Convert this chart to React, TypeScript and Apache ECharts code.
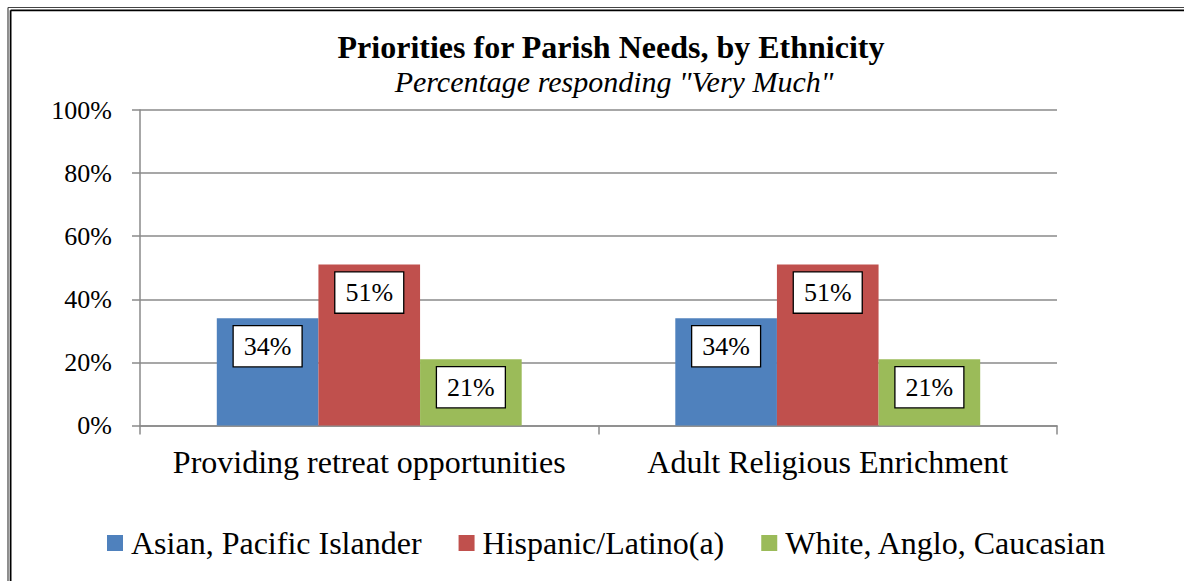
import React, { useEffect, useRef } from "react";
import * as echarts from "echarts";

const categories = ["Providing retreat opportunities", "Adult Religious Enrichment"];
const seriesNames = ["Asian, Pacific Islander", "Hispanic/Latino(a)", "White, Anglo, Caucasian"];
const asianValues = [34, 34];
const hispanicValues = [51, 51];
const whiteValues = [21, 21];
const seriesColors = ["#4F81BD", "#C0504D", "#9BBB59"];
const titleText = "Priorities for Parish Needs, by Ethnicity";
const subtitleText = 'Percentage responding "Very Much"';

const FONT = "Liberation Serif";

export default function App() {
  const ref = useRef<HTMLDivElement>(null);
  useEffect(() => {
    if (!ref.current) return;
    const chart = echarts.init(ref.current, undefined, { renderer: "svg" });
    const values = [asianValues, hispanicValues, whiteValues];
    const option = {
      animation: false,
      backgroundColor: "#ffffff",
      textStyle: { fontFamily: FONT, color: "#000" },
      graphic: [
        { type: "line", shape: { x1: 8, y1: 7.5, x2: 1184, y2: 7.5 }, style: { stroke: "#444", lineWidth: 1.2 } },
        { type: "line", shape: { x1: 8, y1: 7.5, x2: 8, y2: 581 }, style: { stroke: "#444", lineWidth: 1.2 } },
        { type: "line", shape: { x1: 10.6, y1: 10.3, x2: 1184, y2: 10.3 }, style: { stroke: "#000", lineWidth: 1.8 } },
        { type: "line", shape: { x1: 10.6, y1: 10.3, x2: 10.6, y2: 581 }, style: { stroke: "#000", lineWidth: 1.8 } },
        {
          type: "text",
          x: 611,
          y: 47,
          style: {
            text: titleText,
            fontFamily: FONT,
            fontWeight: "bold",
            fontSize: 32,
            fill: "#000",
            textAlign: "center",
            textVerticalAlign: "middle",
          },
        },
        {
          type: "text",
          x: 614,
          y: 81.5,
          style: {
            text: subtitleText,
            fontFamily: FONT,
            fontStyle: "italic",
            fontSize: 30,
            fill: "#000",
            textAlign: "center",
            textVerticalAlign: "middle",
          },
        },
      ],
      legend: {
        left: 107,
        top: 527,
        padding: 0,
        itemWidth: 16,
        itemHeight: 16,
        itemGap: 37,
        icon: "rect",
        data: seriesNames,
        textStyle: { fontFamily: FONT, fontSize: 32, color: "#000", padding: [0, 0, 0, 3] },
      },
      grid: { left: 140, right: 127, top: 110, bottom: 155.5, containLabel: false },
      xAxis: {
        type: "category",
        data: categories,
        axisLine: { show: true, lineStyle: { color: "#8a8a8a", width: 1.5 } },
        axisTick: { show: true, length: 9, lineStyle: { color: "#8a8a8a", width: 1.5 } },
        axisLabel: { interval: 0, fontFamily: FONT, fontSize: 32, color: "#000", margin: 20 },
      },
      yAxis: {
        type: "value",
        min: 0,
        max: 100,
        interval: 20,
        axisLine: { show: true, lineStyle: { color: "#8a8a8a", width: 1.5 } },
        axisTick: { show: true, length: 8, lineStyle: { color: "#8a8a8a", width: 1.5 } },
        axisLabel: { fontFamily: FONT, fontSize: 26, color: "#000", margin: 28, formatter: "{value}%" },
        splitLine: { show: true, lineStyle: { color: "#8a8a8a", width: 1.5 } },
      },
      series: seriesNames.map((name, i) => ({
        name,
        type: "bar",
        data: values[i],
        barGap: "0%",
        barCategoryGap: "33.5%",
        itemStyle: { color: seriesColors[i] },
        label: {
          show: true,
          position: "insideTop",
          distance: 8,
          formatter: "{c}%",
          fontFamily: FONT,
          fontSize: 26,
          color: "#000",
          backgroundColor: "#fff",
          borderColor: "#000",
          borderWidth: 1.3,
          padding: [7, 10, 7, 10],
        },
      })),
    };
    chart.setOption(option as any);
    return () => chart.dispose();
  }, []);
  return (
    <div
      ref={ref}
      style={{ position: "absolute", left: 0, top: 0, width: 1184, height: 581 }}
    />
  );
}
